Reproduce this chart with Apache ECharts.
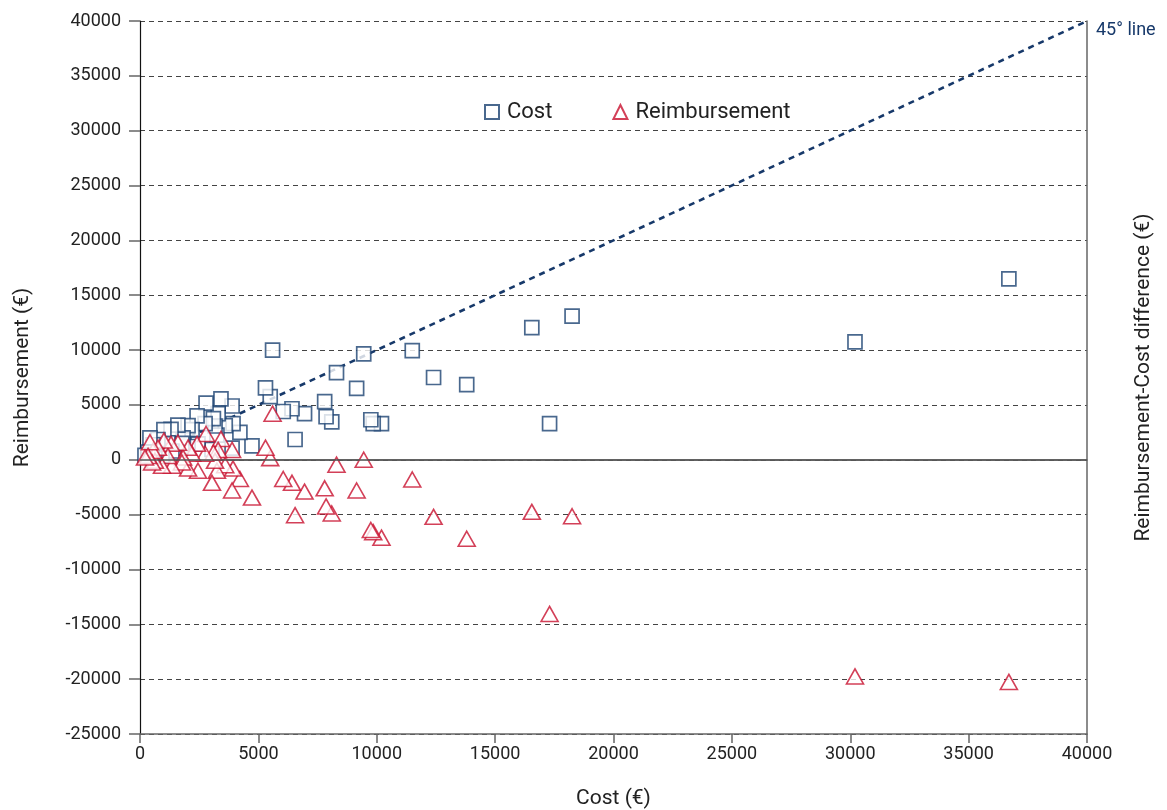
<!DOCTYPE html>
<html><head><meta charset="utf-8">
<script src="https://cdn.jsdelivr.net/npm/echarts@6/dist/echarts.min.js"></script>
<style>html,body{margin:0;padding:0;background:#fff}#c{width:1167px;height:810px}</style>
</head><body><div id="c"></div>
<script>
const costs = [36700, 30200, 18250, 16550, 17300, 13800, 12400, 11500, 10200, 9850, 9750, 9450, 9150, 8300, 8100, 7860, 7800, 6950, 6420, 6050, 6550, 5600, 5500, 5300, 4730, 4220, 3930, 3890, 3890, 3600, 3420, 3300, 3250, 3170, 3100, 3040, 2790, 2750, 2450, 2410, 2200, 2030, 2030, 1820, 1770, 1600, 1350, 1310, 1180, 1010, 930, 760, 630, 550, 510, 420, 340, 210];
const reimbursements = [16500, 10750, 13100, 12050, 3300, 6850, 7500, 9950, 3300, 3300, 3650, 9650, 6500, 7950, 3450, 3920, 5300, 4200, 4650, 4400, 1850, 10000, 5750, 6550, 1270, 2490, 3300, 4900, 1060, 3100, 5550, 4200, 2250, 3080, 3750, 940, 5160, 3300, 1450, 4000, 2750, 3120, 1210, 2000, 1500, 3150, 800, 2770, 1550, 2750, 380, 1850, 540, 1370, 240, 2000, 700, 400];
const differences = [-20250, -19750, -5150, -4750, -14050, -7200, -5200, -1800, -7100, -6600, -6400, 0, -2800, -450, -4900, -4250, -2600, -2900, -2100, -1750, -5050, 4200, 150, 1100, -3450, -1750, -800, 900, -2800, -500, 1900, 900, -1000, -100, 650, -2100, 2350, 550, -1000, 1450, 550, 1100, -800, 200, -250, 1550, -550, 1450, 350, 1750, -550, 1100, -100, 800, -250, 1600, 350, 200];
const xTicks = {min: 0, max: 40000, interval: 5000};
const yTicks = {min: -25000, max: 40000, interval: 5000};
const lineEnds = [[0, 0], [40000, 40000]];

const FONT = "Roboto, 'Noto Sans', sans-serif";
const NAVY = '#1b4272';
const RED = '#c8102e';
const plain = v => String(v);

const chart = echarts.init(document.getElementById('c'));
chart.setOption({
  animation: false,
  textStyle: {fontFamily: FONT},
  grid: {left: 140, right: 80, top: 21, bottom: 76, containLabel: false, outerBoundsMode: 'none'},
  legend: {
    left: 479, top: 96, itemGap: 60, itemWidth: 14, itemHeight: 14,
    data: ['Cost', 'Reimbursement'],
    textStyle: {fontFamily: FONT, fontSize: 22, color: '#222', padding: [0, 0, 0, 3]}
  },
  xAxis: [{
    type: 'value', min: xTicks.min, max: xTicks.max, interval: xTicks.interval,
    name: 'Cost (€)', nameLocation: 'middle', nameGap: 54,
    nameTextStyle: {fontFamily: FONT, fontSize: 21, color: '#222'},
    axisLine: {show: true, onZero: false, lineStyle: {color: '#666', width: 1.5}},
    axisTick: {show: true, inside: false, length: 9, lineStyle: {color: '#666', width: 1.5}},
    axisLabel: {fontFamily: FONT, fontSize: 18, color: '#222', margin: 11, formatter: plain},
    splitLine: {show: false}
  }, {
    type: 'value', position: 'top', min: xTicks.min, max: xTicks.max, interval: xTicks.interval,
    axisLine: {show: true, lineStyle: {color: '#666', width: 1.5}},
    axisTick: {show: false}, axisLabel: {show: false}, splitLine: {show: false}
  }],
  yAxis: [{
    type: 'value', min: yTicks.min, max: yTicks.max, interval: yTicks.interval,
    name: 'Reimbursement (€)', nameLocation: 'middle', nameGap: 95, nameRotate: 90,
    nameTextStyle: {fontFamily: FONT, fontSize: 21, color: '#222', padding: [0, 0, 12, 0]},
    axisLine: {show: true, onZero: false, lineStyle: {color: '#111', width: 1.2}},
    axisTick: {show: true, inside: false, length: 11, lineStyle: {color: '#666', width: 1.5}},
    axisLabel: {fontFamily: FONT, fontSize: 18, color: '#222', margin: 19, formatter: plain},
    splitLine: {show: true, lineStyle: {color: '#444', width: 1, type: [5, 4]}}
  }, {
    type: 'value', position: 'right', min: yTicks.min, max: yTicks.max, interval: yTicks.interval,
    name: 'Reimbursement-Cost difference (€)', nameLocation: 'middle', nameGap: 46, nameRotate: 90,
    nameTextStyle: {fontFamily: FONT, fontSize: 21, color: '#222', padding: [0, 0, 12, 0]},
    axisLine: {show: true, onZero: false, lineStyle: {color: '#666', width: 1.5}},
    axisTick: {show: false}, axisLabel: {show: false}, splitLine: {show: false}
  }],
  series: [{
    name: '45° line', type: 'line', data: lineEnds, symbol: 'none', silent: true, z: 1,
    lineStyle: {color: '#17396a', width: 2.6, type: [6, 5]},
    endLabel: {show: true, formatter: '45° line', color: '#17396a', fontFamily: FONT, fontSize: 18, distance: 9, offset: [0, 9]},
    markLine: {
      silent: true, symbol: 'none', label: {show: false},
      lineStyle: {color: '#555', width: 1.5, type: 'solid'},
      data: [{yAxis: 0}]
    }
  }, {
    name: 'Cost', type: 'scatter', symbol: 'rect', symbolSize: 14, z: 3,
    itemStyle: {color: '#fff', borderColor: NAVY, borderWidth: 1.7},
    data: costs.map((c, i) => [c, reimbursements[i]])
  }, {
    name: 'Reimbursement', type: 'scatter', symbol: 'triangle', symbolSize: [17, 15], z: 4,
    itemStyle: {color: '#fff', borderColor: RED, borderWidth: 1.6},
    data: costs.map((c, i) => [c, differences[i]])
  }]
});
</script></body></html>
